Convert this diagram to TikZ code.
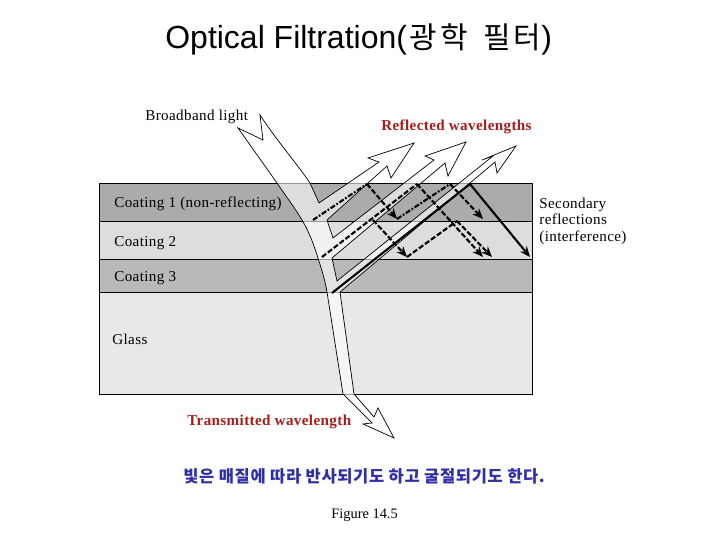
\documentclass[tikz,border=0pt]{standalone}
\usepackage{fontspec}
\setmainfont[LetterSpace=2.5]{Liberation Serif}
\newfontfamily\figurefont{Liberation Serif}
\newfontfamily\titlefont{Liberation Sans}
\newfontfamily\koreanfont[LetterSpace=11]{Noto Sans CJK KR}
\newfontfamily\captionfont[LetterSpace=4]{Noto Sans CJK KR}
\definecolor{layerone}{HTML}{ABABAB}
\definecolor{layertwo}{HTML}{DDDDDD}
\definecolor{layerthree}{HTML}{B9B9B9}
\definecolor{layerglass}{HTML}{E8E8E8}
\definecolor{labelred}{HTML}{A81C1C}
\definecolor{labelblue}{HTML}{2E2EA6}
\usetikzlibrary{arrows.meta}

\begin{document}
\begin{tikzpicture}[x = 0.02cm, y = -0.02cm,
                        layer/.style = {draw = black, line width = 0.4pt},
                        beam/.style = {draw = black, line width = 0.4pt, fill = white, fill opacity = 0.6},
                        label/.style = {anchor = base west, inner sep = 0pt, font = \fontsize{8.6}{10}\selectfont},
                        redlabel/.style = {label, text = labelred, font = \fontsize{8.6}{10}\selectfont\bfseries},
                        solidray/.style = {line width = 1.2pt},
                        dashray/.style = {line width = 1.2pt, dash pattern = on 3pt off 1.2pt},
                        dotray/.style = {line width = 1.2pt, dash pattern = on 3pt off 1pt on 1pt off 1pt},
                        tip/.style = {-{Stealth[length = 6pt, width = 5pt]}}]
      \useasboundingbox (0, 0) rectangle (720, 540);

      \fill [white] (0, 0) rectangle (720, 540);
      \filldraw [layer, fill = layerone] (99, 183) rectangle (532, 221);
      \filldraw [layer, fill = layertwo] (99, 221) rectangle (532, 259);
      \filldraw [layer, fill = layerthree] (99, 259) rectangle (532, 292);
      \filldraw [layer, fill = layerglass] (99, 292) rectangle (532, 394);

      \filldraw [beam] (238, 128) -- (263, 140) -- (260, 115)
            .. controls (280, 145) and (298, 165) .. (310, 183) -- (319, 203)
            -- (379, 162) -- (368, 158) -- (414, 143) -- (391, 178) -- (387, 166)
            -- (327, 220) -- (333, 238)
            -- (434, 160) -- (425, 156) -- (466, 142) -- (448, 176) -- (445, 163)
            -- (332, 258) -- (337, 281)
            -- (493, 156) -- (482, 160) -- (516, 146) -- (497, 173) -- (495, 162)
            -- (340, 292) -- (354, 394)
            -- (374, 417) -- (378, 408) -- (394, 438) -- (363, 424) -- (372, 423)
            -- (343, 394) -- (327, 292)
            .. controls (324, 275) and (320, 265) .. (318, 258)
            .. controls (313, 242) and (308, 230) .. (302, 220)
            .. controls (295, 208) and (285, 195) .. (277, 183) -- cycle;

      \coordinate (p1) at (313, 220);
      \coordinate (p2) at (367, 184);
      \coordinate (p3) at (397, 219);
      \coordinate (p4) at (450, 184);
      \coordinate (p5) at (483, 219);
      \coordinate (q1) at (322, 257);
      \coordinate (q2) at (417, 184);
      \coordinate (q3) at (483, 257);
      \coordinate (q4) at (373, 220);
      \coordinate (q5) at (407, 257);
      \coordinate (q6) at (457, 221);
      \coordinate (q7) at (492, 257);
      \coordinate (r1) at (332, 293);
      \coordinate (r2) at (470, 184);
      \coordinate (r3) at (530, 257);

      \draw [dotray] (p1) -- (p2);
      \draw [dashray, tip] (p2) -- (p3);
      \draw [dotray] (p3) -- (p4);
      \draw [dashray, tip] (p4) -- (p5);
      \draw [dashray] (q1) -- (q2);
      \draw [dashray, tip] (q2) -- (q3);
      \draw [dashray, tip] (q4) -- (q5);
      \draw [dashray] (q5) -- (q6);
      \draw [dashray, tip] (q6) -- (q7);
      \draw [solidray] (r1) -- (r2);
      \draw [solidray, tip] (r2) -- (r3);

      \node [anchor = base west, inner sep = 0pt, font = \titlefont\fontsize{18.2}{20}\selectfont] (title) at (165, 49) {Optical Filtration(\hspace{1.5pt}{\koreanfont\fontsize{17}{20}\selectfont 광학\hspace{3pt} 필터})};
      \node [label] (broadband) at (145, 121) {Broadband light};
      \node [redlabel] (reflected) at (381, 131) {Reflected wavelengths};
      \node [label] (coating1) at (114, 208) {Coating 1 (non-reflecting)};
      \node [label] (coating2) at (114, 247) {Coating 2};
      \node [label] (coating3) at (114, 282) {Coating 3};
      \node [label] (glass) at (112, 345) {Glass};
      \node [label] (secondary1) at (539, 209) {Secondary};
      \node [label] (secondary2) at (539, 225) {reflections};
      \node [label] (secondary3) at (539, 242) {(interference)};
      \node [redlabel] (transmitted) at (187, 425) {Transmitted wavelength};
      \node [anchor = base west, inner sep = 0pt, text = labelblue, font = \captionfont\fontsize{9.4}{10}\selectfont\bfseries] (caption) at (183, 482) {빛은 매질에 따라 반사되기도 하고 굴절되기도 한다.};
      \node [label, font = \figurefont\fontsize{8.2}{10}\selectfont] (figure) at (331, 518) {Figure 14.5};
      \end{tikzpicture}
\end{document}
